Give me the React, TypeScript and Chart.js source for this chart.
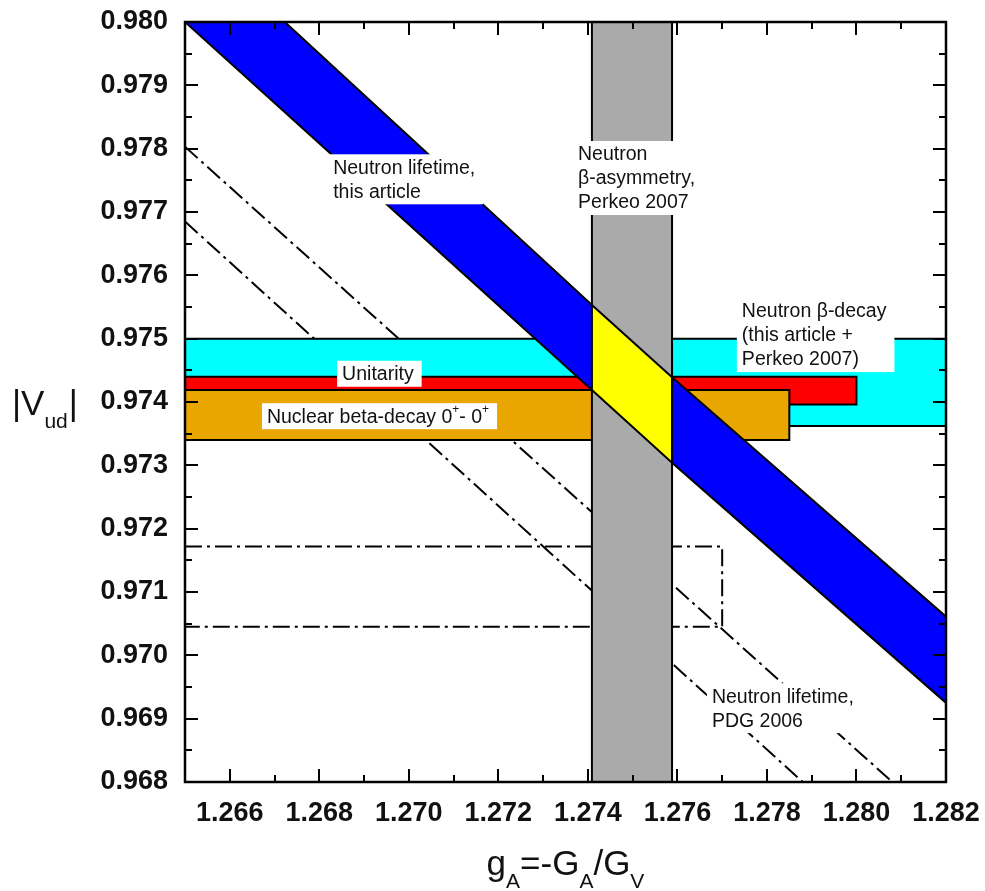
import React, { useEffect, useRef } from 'react';
import { Chart, registerables } from 'chart.js';

Chart.register(...registerables);

// ---- axes ----
const X_MIN = 1.265;
const X_MAX = 1.282;
const Y_MIN = 0.968;
const Y_MAX = 0.98;
const X_TICKS = [1.266, 1.268, 1.27, 1.272, 1.274, 1.276, 1.278, 1.28, 1.282];
const X_MINOR = [1.265, 1.267, 1.269, 1.271, 1.273, 1.275, 1.277, 1.279, 1.281];
const Y_TICKS = [0.968, 0.969, 0.97, 0.971, 0.972, 0.973, 0.974, 0.975, 0.976, 0.977, 0.978, 0.979, 0.98];
const Y_MINOR = [0.9685, 0.9695, 0.9705, 0.9715, 0.9725, 0.9735, 0.9745, 0.9755, 0.9765, 0.9775, 0.9785, 0.9795];

// ---- Neutron beta-asymmetry, Perkeo 2007 (gray band) ----
const perkeoGA = [1.27409, 1.27588];

// ---- Neutron lifetime, this article (blue band edges, read at axis ends and Perkeo edges) ----
const lifetimeLowGA = [1.265, 1.27409, 1.27588, 1.282];
const lifetimeLowVud = [0.98, 0.97419, 0.97304, 0.96925];
const lifetimeHighGA = [1.26723, 1.27409, 1.27588, 1.282];
const lifetimeHighVud = [0.98, 0.97553, 0.97439, 0.97061];

// ---- Neutron beta-decay, this article + Perkeo 2007 (cyan band) ----
const neutronVud = [0.97362, 0.975];

// ---- Unitarity (red band) ----
const unitarityVud = [0.97396, 0.9744];
const unitarityGAEnd = 1.28;

// ---- Nuclear beta decay 0+ - 0+ (orange band) ----
const nuclearVud = [0.9734, 0.97419];
const nuclearGAEnd = 1.2785;

// ---- Neutron lifetime, PDG 2006 (dash-dot) ----
const pdgHighGA = [1.265, 1.2808];
const pdgHighVud = [0.97803, 0.968];
const pdgLowGA = [1.265, 1.2788];
const pdgLowVud = [0.97685, 0.968];
const pdgBoxVud = [0.97045, 0.97172];
const pdgBoxGA = 1.277;

// ---- annotations (text anchor: left x, first-line centre y, in data units) ----
type Seg = { t: string; sup?: boolean };
const LABELS: { x: number; y: number; lines: Seg[][] }[] = [
  { x: 1.26831, y: 0.97769, lines: [[{ t: 'Neutron lifetime,' }], [{ t: 'this article' }]] },
  { x: 1.27378, y: 0.9779, lines: [[{ t: 'Neutron' }], [{ t: 'β-asymmetry,' }], [{ t: 'Perkeo 2007' }]] },
  { x: 1.27744, y: 0.97542, lines: [[{ t: 'Neutron β-decay' }], [{ t: '(this article +' }], [{ t: 'Perkeo 2007)' }]] },
  { x: 1.26851, y: 0.97443, lines: [[{ t: 'Unitarity' }]] },
  {
    x: 1.26683,
    y: 0.97376,
    lines: [[{ t: 'Nuclear beta-decay 0' }, { t: '+', sup: true }, { t: '- 0' }, { t: '+', sup: true }]],
  },
  { x: 1.27677, y: 0.96934, lines: [[{ t: 'Neutron lifetime,' }], [{ t: 'PDG 2006' }]] },
];

const FONT = "'Liberation Sans', Arial, sans-serif";

function rect(x0: number, x1: number, y0: number, y1: number) {
  return [
    { x: x0, y: y0 },
    { x: x1, y: y0 },
    { x: x1, y: y1 },
    { x: x0, y: y1 },
    { x: x0, y: y0 },
  ];
}

function segFont(s: Seg) {
  return s.sup ? `12px ${FONT}` : `19.5px ${FONT}`;
}

function richWidth(ctx: CanvasRenderingContext2D, line: Seg[]) {
  let w = 0;
  for (const s of line) {
    ctx.font = segFont(s);
    w += ctx.measureText(s.t).width;
  }
  return w;
}

function drawRich(ctx: CanvasRenderingContext2D, line: Seg[], x: number, y: number) {
  let cx = x;
  ctx.textBaseline = 'middle';
  ctx.textAlign = 'left';
  for (const s of line) {
    ctx.font = segFont(s);
    ctx.fillText(s.t, cx, s.sup ? y - 8 : y);
    cx += ctx.measureText(s.t).width;
  }
}

const overlay = {
  id: 'overlay',
  afterDatasetsDraw(chart: any) {
    const { ctx, chartArea } = chart;
    const xs = chart.scales.x;
    const ys = chart.scales.y;
    ctx.save();
    // label boxes
    const LH = 24;
    for (const lab of LABELS) {
      const px = xs.getPixelForValue(lab.x);
      const py = ys.getPixelForValue(lab.y);
      let w = 0;
      for (const l of lab.lines) w = Math.max(w, richWidth(ctx, l));
      const n = lab.lines.length;
      ctx.fillStyle = '#ffffff';
      ctx.fillRect(px - 5, py - 14, w + 13, (n - 1) * LH + 26);
      ctx.fillStyle = '#111111';
      lab.lines.forEach((l, i) => drawRich(ctx, l, px, py + i * LH));
    }
    // frame
    const { left, right, top, bottom } = chartArea;
    ctx.strokeStyle = '#000';
    ctx.lineWidth = 2.5;
    ctx.strokeRect(left, top, right - left, bottom - top);
    ctx.lineWidth = 2;
    ctx.beginPath();
    const tickX = (vals: number[], len: number) => {
      for (const v of vals) {
        const p = Math.round(xs.getPixelForValue(v));
        ctx.moveTo(p, bottom);
        ctx.lineTo(p, bottom - len);
        ctx.moveTo(p, top);
        ctx.lineTo(p, top + len);
      }
    };
    const tickY = (vals: number[], len: number) => {
      for (const v of vals) {
        const p = Math.round(ys.getPixelForValue(v));
        ctx.moveTo(left, p);
        ctx.lineTo(left + len, p);
        ctx.moveTo(right, p);
        ctx.lineTo(right - len, p);
      }
    };
    tickX(X_TICKS, 13);
    tickX(X_MINOR, 7);
    tickY(Y_TICKS, 13);
    tickY(Y_MINOR, 7);
    ctx.stroke();
    ctx.restore();
  },
  afterDraw(chart: any) {
    const { ctx, chartArea } = chart;
    ctx.save();
    ctx.fillStyle = '#111';
    ctx.textBaseline = 'alphabetic';
    ctx.textAlign = 'left';
    // y title |V_ud|
    const main = `35px ${FONT}`;
    const sub = `21px ${FONT}`;
    const yParts: { t: string; sub?: boolean }[] = [{ t: '|' }, { t: 'V' }, { t: 'ud', sub: true }, { t: '|' }];
    let cx = 12;
    const yBase = (chartArea.top + chartArea.bottom) / 2 + 13;
    for (const p of yParts) {
      ctx.font = p.sub ? sub : main;
      ctx.fillText(p.t, cx, p.sub ? yBase + 13 : yBase);
      cx += ctx.measureText(p.t).width + (p.sub ? 1 : 0);
    }
    // x title g_A=-G_A/G_V
    const xParts: { t: string; sub?: boolean }[] = [
      { t: 'g' },
      { t: 'A', sub: true },
      { t: '=-G' },
      { t: 'A', sub: true },
      { t: '/G' },
      { t: 'V', sub: true },
    ];
    let tw = 0;
    for (const p of xParts) {
      ctx.font = p.sub ? sub : main;
      tw += ctx.measureText(p.t).width;
    }
    cx = (chartArea.left + chartArea.right) / 2 - tw / 2;
    const xBase = 875;
    for (const p of xParts) {
      ctx.font = p.sub ? sub : main;
      ctx.fillText(p.t, cx, p.sub ? xBase + 13 : xBase);
      cx += ctx.measureText(p.t).width;
    }
    ctx.restore();
  },
};

export default function App() {
  const ref = useRef<HTMLCanvasElement | null>(null);

  useEffect(() => {
    if (!ref.current) return;

    const low = lifetimeLowGA.map((g, i) => ({ x: g, y: lifetimeLowVud[i] }));
    const high = lifetimeHighGA.map((g, i) => ({ x: g, y: lifetimeHighVud[i] }));
    const bluePts = [...low, ...high.slice().reverse(), low[0]];
    // overlap of blue band with the Perkeo band (edge points read at the Perkeo limits)
    const yellowPts = [low[1], high[1], high[2], low[2], low[1]];

    const poly = (label: string, data: any[], color: string) => ({
      label,
      data,
      backgroundColor: color,
      borderColor: '#000',
      borderWidth: 2,
      fill: 'shape',
      pointRadius: 0,
      tension: 0,
    });
    const dash = (label: string, data: any[]) => ({
      label,
      data,
      borderColor: '#000',
      borderWidth: 2,
      borderDash: [17, 5, 3, 5],
      fill: false,
      pointRadius: 0,
      tension: 0,
    });

    const chart = new Chart(ref.current, {
      type: 'line',
      data: {
        datasets: [
          poly('overlap', yellowPts, '#ffff00'),
          poly('Perkeo 2007', rect(perkeoGA[0], perkeoGA[1], Y_MIN - 0.001, Y_MAX + 0.001), '#aaaaaa'),
          poly('Neutron lifetime, this article', bluePts, '#0000ff'),
          poly('Nuclear', rect(X_MIN - 0.001, nuclearGAEnd, nuclearVud[0], nuclearVud[1]), '#e9a500'),
          poly('Unitarity', rect(X_MIN - 0.001, unitarityGAEnd, unitarityVud[0], unitarityVud[1]), '#ff0000'),
          poly('Neutron beta-decay', rect(X_MIN - 0.001, X_MAX + 0.001, neutronVud[0], neutronVud[1]), '#00ffff'),
          dash('PDG box', [
            { x: X_MIN, y: pdgBoxVud[1] },
            { x: pdgBoxGA, y: pdgBoxVud[1] },
            { x: pdgBoxGA, y: pdgBoxVud[0] },
            { x: X_MIN, y: pdgBoxVud[0] },
          ]),
          dash('PDG high', pdgHighGA.map((g, i) => ({ x: g, y: pdgHighVud[i] }))),
          dash('PDG low', pdgLowGA.map((g, i) => ({ x: g, y: pdgLowVud[i] }))),
        ] as any,
      },
      options: {
        animation: false,
        responsive: false,
        devicePixelRatio: 1,
        layout: { padding: { left: 0, top: 22, right: 39, bottom: 0 } },
        plugins: { legend: { display: false }, tooltip: { enabled: false } },
        scales: {
          x: {
            type: 'linear',
            min: X_MIN,
            max: X_MAX,
            grid: { display: false, drawTicks: false },
            border: { display: false },
            afterBuildTicks: (s: any) => {
              s.ticks = X_TICKS.map((v) => ({ value: v }));
            },
            afterFit: (s: any) => {
              s.height = 109;
              s.paddingLeft = 0;
              s.paddingRight = 0;
            },
            ticks: {
              autoSkip: false,
              maxRotation: 0,
              padding: 15,
              color: '#111',
              font: { family: FONT, size: 27, weight: 'bold' },
              callback: (v: any) => Number(v).toFixed(3),
            },
          },
          y: {
            type: 'linear',
            min: Y_MIN,
            max: Y_MAX,
            grid: { display: false, drawTicks: false },
            border: { display: false },
            afterBuildTicks: (s: any) => {
              s.ticks = Y_TICKS.map((v) => ({ value: v }));
            },
            afterFit: (s: any) => {
              s.width = 185;
              s.paddingTop = 0;
              s.paddingBottom = 0;
            },
            ticks: {
              autoSkip: false,
              padding: 17,
              color: '#111',
              font: { family: FONT, size: 27, weight: 'bold' },
              callback: (v: any) => Number(v).toFixed(3),
            },
          },
        },
      } as any,
      plugins: [overlay],
    });
    return () => chart.destroy();
  }, []);

  return (
    <div style={{ position: 'absolute', left: 0, top: 0, width: 985, height: 891, background: '#fff' }}>
      <canvas ref={ref} width={985} height={891} />
    </div>
  );
}
